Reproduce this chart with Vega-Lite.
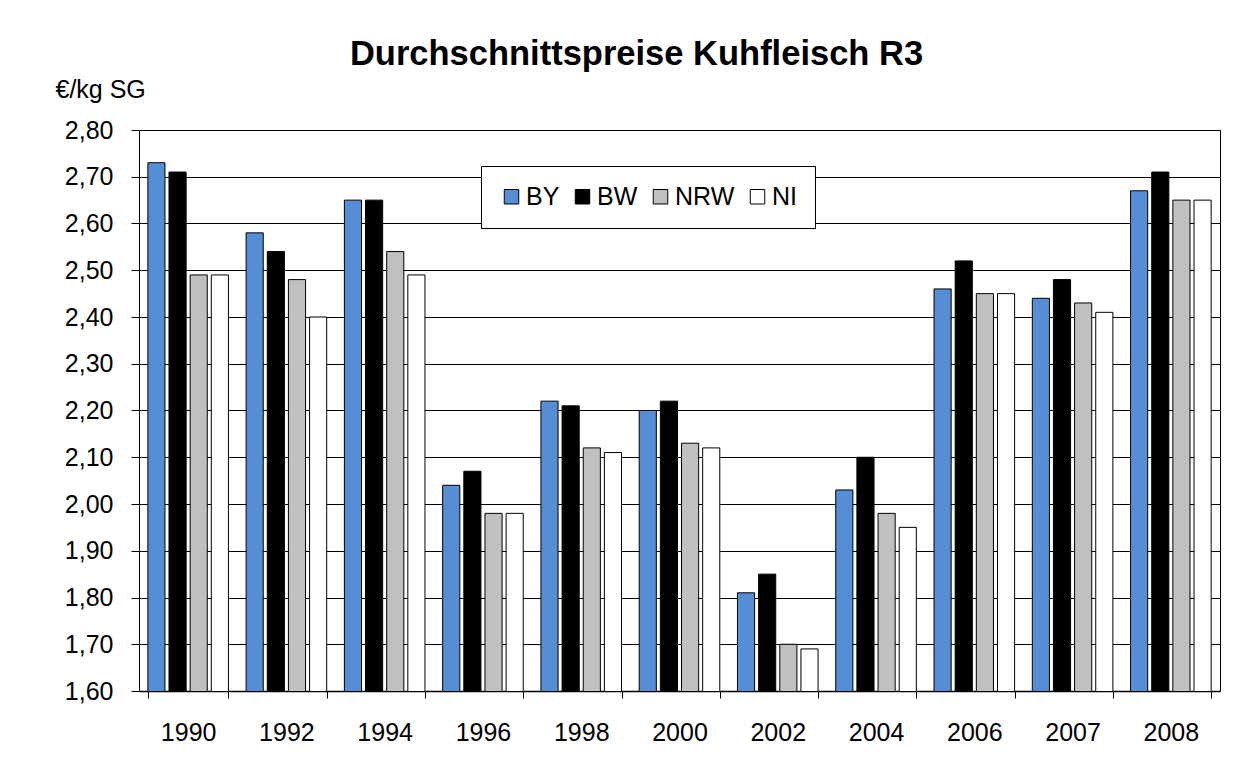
{
  "$schema": "https://vega.github.io/schema/vega-lite/v6.json",
  "autosize": {"type": "none"},
  "width": 1081,
  "height": 561,
  "padding": {"left": 139, "top": 130, "right": 17, "bottom": 81},
  "background": "white",
  "title": {
    "text": "Durchschnittspreise Kuhfleisch R3",
    "font": "Liberation Sans",
    "fontSize": 34.5,
    "fontWeight": "bold",
    "color": "black",
    "anchor": "middle",
    "frame": "group",
    "baseline": "alphabetic",
    "dx": -43,
    "dy": 36,
    "offset": 14
  },
  "data": {
    "values": [
      {"Jahr": "1990", "Region": "BY", "Preis": 2.73},
      {"Jahr": "1990", "Region": "BW", "Preis": 2.71},
      {"Jahr": "1990", "Region": "NRW", "Preis": 2.49},
      {"Jahr": "1990", "Region": "NI", "Preis": 2.49},
      {"Jahr": "1992", "Region": "BY", "Preis": 2.58},
      {"Jahr": "1992", "Region": "BW", "Preis": 2.54},
      {"Jahr": "1992", "Region": "NRW", "Preis": 2.48},
      {"Jahr": "1992", "Region": "NI", "Preis": 2.40},
      {"Jahr": "1994", "Region": "BY", "Preis": 2.65},
      {"Jahr": "1994", "Region": "BW", "Preis": 2.65},
      {"Jahr": "1994", "Region": "NRW", "Preis": 2.54},
      {"Jahr": "1994", "Region": "NI", "Preis": 2.49},
      {"Jahr": "1996", "Region": "BY", "Preis": 2.04},
      {"Jahr": "1996", "Region": "BW", "Preis": 2.07},
      {"Jahr": "1996", "Region": "NRW", "Preis": 1.98},
      {"Jahr": "1996", "Region": "NI", "Preis": 1.98},
      {"Jahr": "1998", "Region": "BY", "Preis": 2.22},
      {"Jahr": "1998", "Region": "BW", "Preis": 2.21},
      {"Jahr": "1998", "Region": "NRW", "Preis": 2.12},
      {"Jahr": "1998", "Region": "NI", "Preis": 2.11},
      {"Jahr": "2000", "Region": "BY", "Preis": 2.20},
      {"Jahr": "2000", "Region": "BW", "Preis": 2.22},
      {"Jahr": "2000", "Region": "NRW", "Preis": 2.13},
      {"Jahr": "2000", "Region": "NI", "Preis": 2.12},
      {"Jahr": "2002", "Region": "BY", "Preis": 1.81},
      {"Jahr": "2002", "Region": "BW", "Preis": 1.85},
      {"Jahr": "2002", "Region": "NRW", "Preis": 1.70},
      {"Jahr": "2002", "Region": "NI", "Preis": 1.69},
      {"Jahr": "2004", "Region": "BY", "Preis": 2.03},
      {"Jahr": "2004", "Region": "BW", "Preis": 2.10},
      {"Jahr": "2004", "Region": "NRW", "Preis": 1.98},
      {"Jahr": "2004", "Region": "NI", "Preis": 1.95},
      {"Jahr": "2006", "Region": "BY", "Preis": 2.46},
      {"Jahr": "2006", "Region": "BW", "Preis": 2.52},
      {"Jahr": "2006", "Region": "NRW", "Preis": 2.45},
      {"Jahr": "2006", "Region": "NI", "Preis": 2.45},
      {"Jahr": "2007", "Region": "BY", "Preis": 2.44},
      {"Jahr": "2007", "Region": "BW", "Preis": 2.48},
      {"Jahr": "2007", "Region": "NRW", "Preis": 2.43},
      {"Jahr": "2007", "Region": "NI", "Preis": 2.41},
      {"Jahr": "2008", "Region": "BY", "Preis": 2.67},
      {"Jahr": "2008", "Region": "BW", "Preis": 2.71},
      {"Jahr": "2008", "Region": "NRW", "Preis": 2.65},
      {"Jahr": "2008", "Region": "NI", "Preis": 2.65}
    ]
  },
  "mark": {"type": "bar", "stroke": "black", "strokeWidth": 1, "clip": true},
  "encoding": {
    "x": {
      "field": "Jahr",
      "type": "nominal",
      "sort": null,
      "scale": {"paddingInner": 0.18, "paddingOuter": 0.09},
      "axis": {
        "title": null,
        "labelAngle": 0,
        "labelFont": "Liberation Sans",
        "labelFontSize": 25,
        "labelColor": "black",
        "labelPadding": 22,
        "tickBand": "extent",
        "tickSize": 7,
        "tickColor": "black",
        "domainColor": "black",
        "domainWidth": 1.5,
        "grid": false
      }
    },
    "xOffset": {
      "field": "Region",
      "type": "nominal",
      "sort": ["BY", "BW", "NRW", "NI"],
      "scale": {"paddingInner": 0.19, "paddingOuter": 0}
    },
    "y": {
      "field": "Preis",
      "type": "quantitative",
      "scale": {"domain": [1.6, 2.8], "zero": false, "nice": false},
      "axis": {
        "values": [1.6, 1.7, 1.8, 1.9, 2.0, 2.1, 2.2, 2.3, 2.4, 2.5, 2.6, 2.7, 2.8],
        "labelExpr": "replace(format(datum.value, '.2f'), '.', ',')",
        "labelFont": "Liberation Sans",
        "labelFontSize": 25,
        "labelColor": "black",
        "labelPadding": 18,
        "tickSize": 8,
        "tickColor": "black",
        "domainColor": "black",
        "grid": true,
        "gridColor": "black",
        "gridWidth": 1,
        "gridOpacity": 1,
        "title": "€/kg SG",
        "titleFont": "Liberation Sans",
        "titleFontSize": 25,
        "titleFontWeight": "normal",
        "titleColor": "black",
        "titleAngle": 0,
        "titleAlign": "left",
        "titleBaseline": "alphabetic",
        "titleX": -84,
        "titleY": -33
      }
    },
    "color": {
      "field": "Region",
      "type": "nominal",
      "sort": ["BY", "BW", "NRW", "NI"],
      "scale": {
        "domain": ["BY", "BW", "NRW", "NI"],
        "range": ["#558ED5", "#000000", "#C0C0C0", "#FFFFFF"]
      },
      "legend": {
        "title": null,
        "orient": "none",
        "legendX": 342,
        "legendY": 36,
        "direction": "horizontal",
        "fillColor": "white",
        "strokeColor": "black",
        "padding": 18,
        "symbolType": "square",
        "symbolSize": 210,
        "symbolStrokeColor": "black",
        "symbolStrokeWidth": 1,
        "symbolOpacity": 1,
        "labelFont": "Liberation Sans",
        "labelFontSize": 25,
        "labelColor": "black",
        "labelOffset": 2,
        "columnPadding": 10
      }
    }
  },
  "config": {
    "view": {"stroke": "black", "strokeWidth": 1}
  }
}
